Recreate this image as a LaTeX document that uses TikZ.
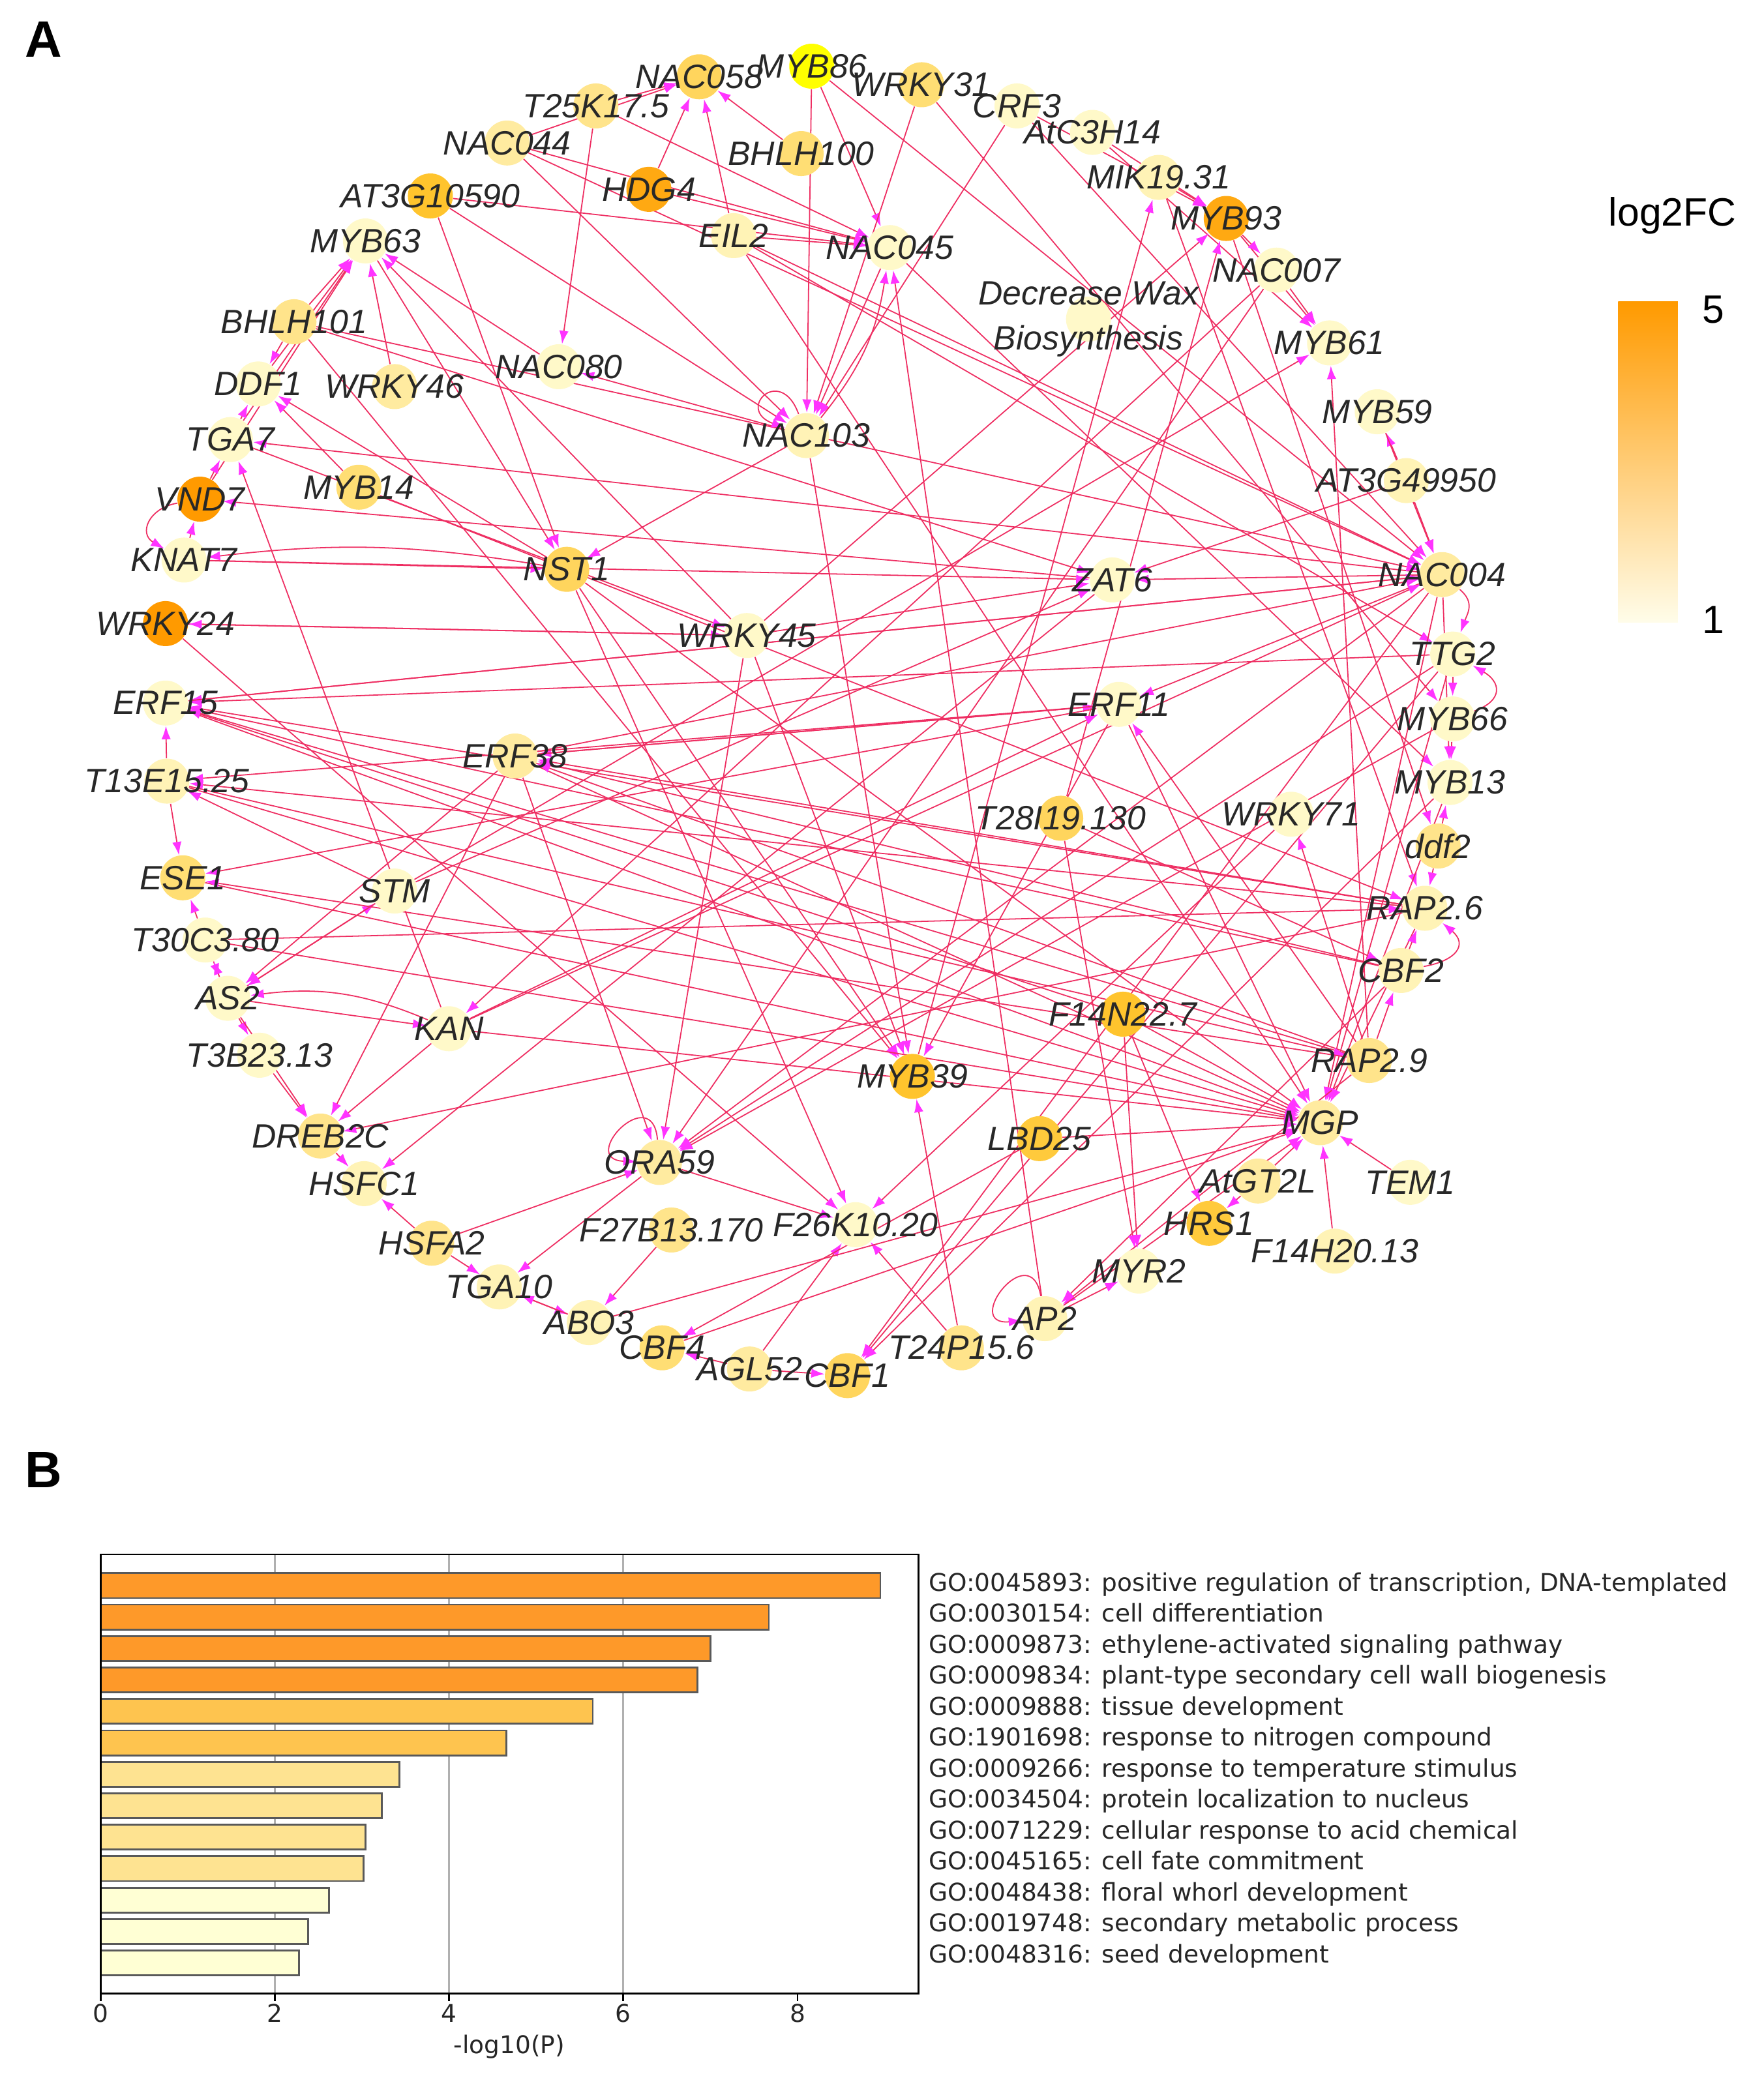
\documentclass[tikz,border=0pt]{standalone}
\usepackage{fontspec}
\setmainfont{Liberation Sans}
\newfontfamily\plotfont{DejaVu Sans}
\usetikzlibrary{arrows.meta}
\pgfdeclarelayer{background}
\pgfsetlayers{background,main}

\definecolor{linkcol}{RGB}{238,46,98}
\definecolor{tipcol}{RGB}{255,51,255}
\definecolor{txtcol}{RGB}{40,40,40}
\definecolor{lv0}{HTML}{FFF9C9}
\definecolor{lv1}{HTML}{FFF3B6}
\definecolor{lv2}{HTML}{FFEBA0}
\definecolor{lv3}{HTML}{FFE48B}
\definecolor{lv4}{HTML}{FFDE74}
\definecolor{lv5}{HTML}{FFD55D}
\definecolor{lv6}{HTML}{FFCA3C}
\definecolor{lv7}{HTML}{FFC42D}
\definecolor{lv8}{HTML}{FFA912}
\definecolor{lv9}{HTML}{FF9A00}
\definecolor{yel}{HTML}{FFFF00}
\definecolor{barA}{HTML}{FE9929}
\definecolor{barB}{HTML}{FEC44F}
\definecolor{barC}{HTML}{FEE391}
\definecolor{barD}{HTML}{FFFFD4}
\definecolor{gridcol}{HTML}{B0B0B0}

\begin{document}
\begin{tikzpicture}[x=0.02cm, y=-0.02cm,
gene/.style={circle, fill=#1, minimum size=0.68cm, inner sep=0pt},
glab/.style={font=\itshape\fontsize{14.5}{19.4}\selectfont, text=txtcol, inner sep=0pt, align=center},
link/.style={draw=linkcol, line width=0.5pt, -{Latex[length=0.2cm, width=0.14cm, color=tipcol]}},
panel/.style={font=\bfseries\fontsize{22}{24}\selectfont, inner sep=0pt},
cbar/.style={font=\fontsize{17}{19}\selectfont, inner sep=0pt},
golab/.style={font=\plotfont\fontsize{10.5}{12}\selectfont, text=black!85, inner sep=0pt, anchor=west, text height=1.5ex, text depth=0.4ex},
bar/.style={fill=#1, draw=black!65, line width=0.8pt}
]
\useasboundingbox (0,0) rectangle (1332,1568);

\node[panel] (pa) at (33,30) {A};
\node[panel] (pb) at (33,1110) {B};

% genes
\node[gene=yel, label={[glab]center:MYB86}] (myb86) at (613,50) {};
\node[gene=lv5, label={[glab]center:NAC058}] (nac058) at (528,58) {};
\node[gene=lv3, label={[glab]center:T25K17.5}] (t25k) at (450,80) {};
\node[gene=lv4, label={[glab]center:WRKY31}] (wrky31) at (696,64) {};
\node[gene=lv0, label={[glab]center:CRF3}] (crf3) at (768,80) {};
\node[gene=lv0, label={[glab]center:AtC3H14}] (atc3h14) at (825,100) {};
\node[gene=lv2, label={[glab]center:NAC044}] (nac044) at (383,108) {};
\node[gene=lv4, label={[glab]center:BHLH100}] (bhlh100) at (605,116) {};
\node[gene=lv1, label={[glab]center:MIK19.31}] (mik1931) at (875,134) {};
\node[gene=lv8, label={[glab]center:HDG4}] (hdg4) at (490,143) {};
\node[gene=lv7, label={[glab]center:AT3G10590}] (at3g10590) at (325,148) {};
\node[gene=lv8, label={[glab]center:MYB93}] (myb93) at (926,165) {};
\node[gene=lv1, label={[glab]center:EIL2}] (eil2) at (554,178) {};
\node[gene=lv0, label={[glab]center:NAC045}] (nac045) at (672,187) {};
\node[gene=lv0, label={[glab]center:MYB63}] (myb63) at (276,182) {};
\node[gene=lv0, label={[glab]center:NAC007}] (nac007) at (964,204) {};
\node[gene=lv0, label={[glab]center:{Decrease Wax\\Biosynthesis}}] (decwax) at (822,241) {};
\node[gene=lv3, label={[glab]center:BHLH101}] (bhlh101) at (222,243) {};
\node[gene=lv0, label={[glab]center:MYB61}] (myb61) at (1004,259) {};
\node[gene=lv0, label={[glab]center:NAC080}] (nac080) at (422,277) {};
\node[gene=lv0, label={[glab]center:DDF1}] (ddf1) at (195,290) {};
\node[gene=lv2, label={[glab]center:WRKY46}] (wrky46) at (298,292) {};
\node[gene=lv1, label={[glab]center:NAC103}] (nac103) at (609,329) {};
\node[gene=lv0, label={[glab]center:MYB59}] (myb59) at (1040,311) {};
\node[gene=lv0, label={[glab]center:TGA7}] (tga7) at (174,332) {};
\node[gene=lv1, label={[glab]center:AT3G49950}] (at3g49950) at (1062,363) {};
\node[gene=lv4, label={[glab]center:MYB14}] (myb14) at (271,368) {};
\node[gene=lv9, label={[glab]center:VND7}] (vnd7) at (151,377) {};
\node[gene=lv0, label={[glab]center:KNAT7}] (knat7) at (139,423) {};
\node[gene=lv5, label={[glab]center:NST1}] (nst1) at (428,430) {};
\node[gene=lv0, label={[glab]center:ZAT6}] (zat6) at (840,438) {};
\node[gene=lv2, label={[glab]center:NAC004}] (nac004) at (1089,434) {};
\node[gene=lv9, label={[glab]center:WRKY24}] (wrky24) at (125,471) {};
\node[gene=lv0, label={[glab]center:WRKY45}] (wrky45) at (564,480) {};
\node[gene=lv0, label={[glab]center:TTG2}] (ttg2) at (1097,494) {};
\node[gene=lv0, label={[glab]center:ERF15}] (erf15) at (125,531) {};
\node[gene=lv0, label={[glab]center:ERF11}] (erf11) at (845,532) {};
\node[gene=lv0, label={[glab]center:MYB66}] (myb66) at (1097,543) {};
\node[gene=lv2, label={[glab]center:ERF38}] (erf38) at (389,571) {};
\node[gene=lv1, label={[glab]center:T13E15.25}] (t13e15) at (126,590) {};
\node[gene=lv0, label={[glab]center:MYB13}] (myb13) at (1095,591) {};
\node[gene=lv5, label={[glab]center:T28I19.130}] (t28i19) at (801,618) {};
\node[gene=lv0, label={[glab]center:WRKY71}] (wrky71) at (975,615) {};
\node[gene=lv3, label={[glab]center:ddf2}] (ddf2) at (1086,639) {};
\node[gene=lv4, label={[glab]center:ESE1}] (ese1) at (138,663) {};
\node[gene=lv0, label={[glab]center:STM}] (stm) at (298,673) {};
\node[gene=lv1, label={[glab]center:RAP2.6}] (rap26) at (1076,686) {};
\node[gene=lv0, label={[glab]center:T30C3.80}] (t30c3) at (155,710) {};
\node[gene=lv1, label={[glab]center:CBF2}] (cbf2) at (1058,733) {};
\node[gene=lv0, label={[glab]center:AS2}] (as2) at (172,754) {};
\node[gene=lv7, label={[glab]center:F14N22.7}] (f14n22) at (848,766) {};
\node[gene=lv0, label={[glab]center:KAN}] (kan) at (339,777) {};
\node[gene=lv0, label={[glab]center:T3B23.13}] (t3b23) at (196,797) {};
\node[gene=lv3, label={[glab]center:RAP2.9}] (rap29) at (1034,801) {};
\node[gene=lv7, label={[glab]center:MYB39}] (myb39) at (689,813) {};
\node[gene=lv3, label={[glab]center:DREB2C}] (dreb2c) at (242,858) {};
\node[gene=lv6, label={[glab]center:LBD25}] (lbd25) at (785,860) {};
\node[gene=lv2, label={[glab]center:MGP}] (mgp) at (997,848) {};
\node[gene=lv2, label={[glab]center:ORA59}] (ora59) at (498,878) {};
\node[gene=lv1, label={[glab]center:HSFC1}] (hsfc1) at (275,894) {};
\node[gene=lv2, label={[glab]center:AtGT2L}] (atgt2l) at (950,892) {};
\node[gene=lv0, label={[glab]center:TEM1}] (tem1) at (1065,893) {};
\node[gene=lv3, label={[glab]center:F27B13.170}] (f27b13) at (507,929) {};
\node[gene=lv0, label={[glab]center:F26K10.20}] (f26k10) at (646,925) {};
\node[gene=lv6, label={[glab]center:HRS1}] (hrs1) at (913,924) {};
\node[gene=lv3, label={[glab]center:HSFA2}] (hsfa2) at (326,939) {};
\node[gene=lv1, label={[glab]center:F14H20.13}] (f14h20) at (1008,945) {};
\node[gene=lv0, label={[glab]center:MYR2}] (myr2) at (860,960) {};
\node[gene=lv1, label={[glab]center:TGA10}] (tga10) at (377,972) {};
\node[gene=lv1, label={[glab]center:ABO3}] (abo3) at (445,999) {};
\node[gene=lv1, label={[glab]center:AP2}] (ap2) at (789,996) {};
\node[gene=lv4, label={[glab]center:CBF4}] (cbf4) at (500,1018) {};
\node[gene=lv3, label={[glab]center:T24P15.6}] (t24p) at (726,1018) {};
\node[gene=lv2, label={[glab]center:AGL52}] (agl52) at (566,1034) {};
\node[gene=lv5, label={[glab]center:CBF1}] (cbf1) at (640,1039) {};

% regulatory links
\begin{pgfonlayer}{background}
\foreach \a/\b in {
    nac044/nac058, t25k/nac058, t25k/nac080, t25k/nac045, nac044/nac045, nac044/nac103, nac044/nac004,
    at3g10590/nac045, at3g10590/nst1, at3g10590/nac103,
    bhlh101/myb63, ddf1/myb63, tga7/myb63, vnd7/myb63, wrky46/myb63, nac080/myb63, wrky45/myb63, myb63/nst1,
    bhlh101/ddf1, tga7/ddf1, vnd7/tga7, kan/tga7, myb14/ddf1, nst1/ddf1, nac004/tga7, tga7/wrky45,
    bhlh101/zat6, bhlh101/nac004, bhlh101/myb39,
    hdg4/nac058, eil2/nac058, bhlh100/nac058, myb86/nac103, myb86/nac045, wrky31/nac103, myb86/nac004,
    wrky31/myb66, crf3/nac103, nac045/nac103, eil2/nac045, hdg4/nac045, ap2/nac045, eil2/mgp, eil2/nac004,
    eil2/ttg2, nac103/nac080, nac103/nst1, nac045/myb13,
    myb39/mik1931, mik1931/myb93, atc3h14/myb93, crf3/myb93, atc3h14/myb61, myb93/myb61, nac007/myb61,
    myb93/nac007, wrky45/myb93, t28i19/myb93, nac007/kan, stm/myb61, at3g49950/myb59, myb59/nac004,
    rap29/myb61, at3g49950/nac004, at3g49950/zat6, mik1931/rap26, myb93/ddf2, crf3/nac004,
    nac004/zat6, nac004/erf15, ttg2/erf15, ttg2/myb66, myb66/myb13, ddf2/myb13, ddf2/rap26, nac004/myb13,
    nac004/erf11, rap29/erf11, rap29/wrky71, nac004/ora59, ttg2/ora59, myb66/ora59, nac004/cbf1,
    ttg2/cbf1, myb13/cbf1, nac004/mgp, myb13/mgp, ttg2/mgp,
    knat7/vnd7, zat6/vnd7, knat7/nst1, wrky24/wrky45, wrky45/wrky24, wrky24/f26k10, t13e15/erf15,
    t13e15/ese1, stm/t13e15, t30c3/ese1, as2/stm, knat7/zat6, wrky45/zat6, stm/zat6,
    t30c3/as2, as2/t30c3, stm/as2, erf38/as2, as2/kan, as2/t3b23, t3b23/dreb2c, as2/dreb2c, erf38/dreb2c,
    kan/dreb2c, rap26/dreb2c, dreb2c/hsfc1, zat6/hsfc1, hsfa2/hsfc1, hsfa2/tga10, hsfa2/ora59,
    ora59/tga10, tga10/abo3, abo3/tga10, kan/nac004, kan/erf11,
    erf38/ora59, ora59/f26k10, f27b13/abo3, nst1/f26k10, wrky71/f26k10, agl52/f26k10, t24p/f26k10,
    t24p/myb39, lbd25/cbf4, abo3/mgp, agl52/cbf4, agl52/cbf1, cbf2/ap2, rap29/ap2, ap2/myr2,
    f14n22/myr2, t28i19/myr2, f14n22/hrs1, atgt2l/hrs1, atgt2l/mgp, f14h20/mgp, tem1/mgp,
    wrky45/ora59, wrky45/myb39, nst1/myb39, nac103/myb39, erf11/myb39,
    f14n22/mgp, lbd25/mgp, erf38/mgp, erf15/mgp, t13e15/mgp, ese1/mgp, rap26/mgp, erf11/mgp,
    cbf4/mgp, ap2/mgp, kan/mgp,
    rap26/erf15, rap29/erf15, cbf2/erf15, f14n22/erf15, rap26/erf38, rap29/erf38, cbf2/erf38,
    erf11/erf38, erf38/erf11, erf11/t13e15, rap26/t13e15, t13e15/rap29, erf11/ese1, rap29/ese1,
    t30c3/rap26, t30c3/mgp, rap29/cbf2, cbf2/rap26, erf15/nac004, erf38/nac004, myb14/rap26,
    nst1/mgp, t28i19/cbf2, nac007/ora59%
    }
    \draw[link] (\a) -- (\b);

% curved links and self loops
\draw[link] (nac103) to[bend right=15] (nac045);
\draw[link] (vnd7) to[out=190, in=150, looseness=1.6] (knat7);
\draw[link] (nst1) to[bend right=8] (knat7);
\draw[link] (kan) to[bend right=15] (as2);
\draw[link] (nac004) to[out=-40, in=70, looseness=1.2] (ttg2);
\draw[link] (myb66) to[out=20, in=-30, looseness=1.8] (ttg2);
\draw[link] (cbf2) to[out=10, in=-40, looseness=1.8] (rap26);
\draw[link] (nac103) to[out=110, in=160, looseness=7] (nac103);
\draw[link] (ora59) to[out=95, in=178, looseness=5] (ora59);
\draw[link] (ap2) to[out=100, in=185, looseness=5] (ap2);
\end{pgfonlayer}

% colour key
\node[cbar] (keyttl) at (1263,163) {log2FC};
\shade[top color=lv9, middle color=lv4, bottom color=white!60!lv0] (1222,228) rectangle (1267,470);
\node[cbar] (keyhi) at (1294,234) {5};
\node[cbar] (keylo) at (1294,468) {1};

% enrichment bar chart
\foreach \t in {2,4,6}
    \draw[gridcol, line width=0.8pt] ({75.9+65.8*\t},1174) -- ({75.9+65.8*\t},1505.7);
\foreach \v/\c/\g [count=\i] in {
    8.95/barA/{GO:0045893: positive regulation of transcription, DNA-templated},
    7.67/barA/{GO:0030154: cell differentiation},
    7.00/barA/{GO:0009873: ethylene-activated signaling pathway},
    6.85/barA/{GO:0009834: plant-type secondary cell wall biogenesis},
    5.65/barB/{GO:0009888: tissue development},
    4.66/barB/{GO:1901698: response to nitrogen compound},
    3.43/barC/{GO:0009266: response to temperature stimulus},
    3.23/barC/{GO:0034504: protein localization to nucleus},
    3.04/barC/{GO:0071229: cellular response to acid chemical},
    3.02/barC/{GO:0045165: cell fate commitment},
    2.62/barD/{GO:0048438: floral whorl development},
    2.38/barD/{GO:0019748: secondary metabolic process},
    2.28/barD/{GO:0048316: seed development}%
    }{
    \pgfmathsetmacro\yy{1197.6+23.75*(\i-1)}
    \draw[bar=\c] (75.9,\yy-9.4) rectangle ({75.9+65.8*\v},\yy+9.4);
    \node[golab] (go\i) at (701,{1196.6+23.4*(\i-1)}) {\g};
}
\draw[black, line width=0.8pt] (75.9,1174) rectangle (693.8,1505.7);
\foreach \t in {0,2,4,6,8}{
    \draw[black, line width=0.8pt] ({75.9+65.8*\t},1505.7) -- ({75.9+65.8*\t},1511.5);
    \node[golab, anchor=center] (tick\t) at ({75.9+65.8*\t},1522) {\t};
}
\node[golab, anchor=center] (xlab) at (384.6,1546) {-log10(P)};
\end{tikzpicture}
\end{document}
